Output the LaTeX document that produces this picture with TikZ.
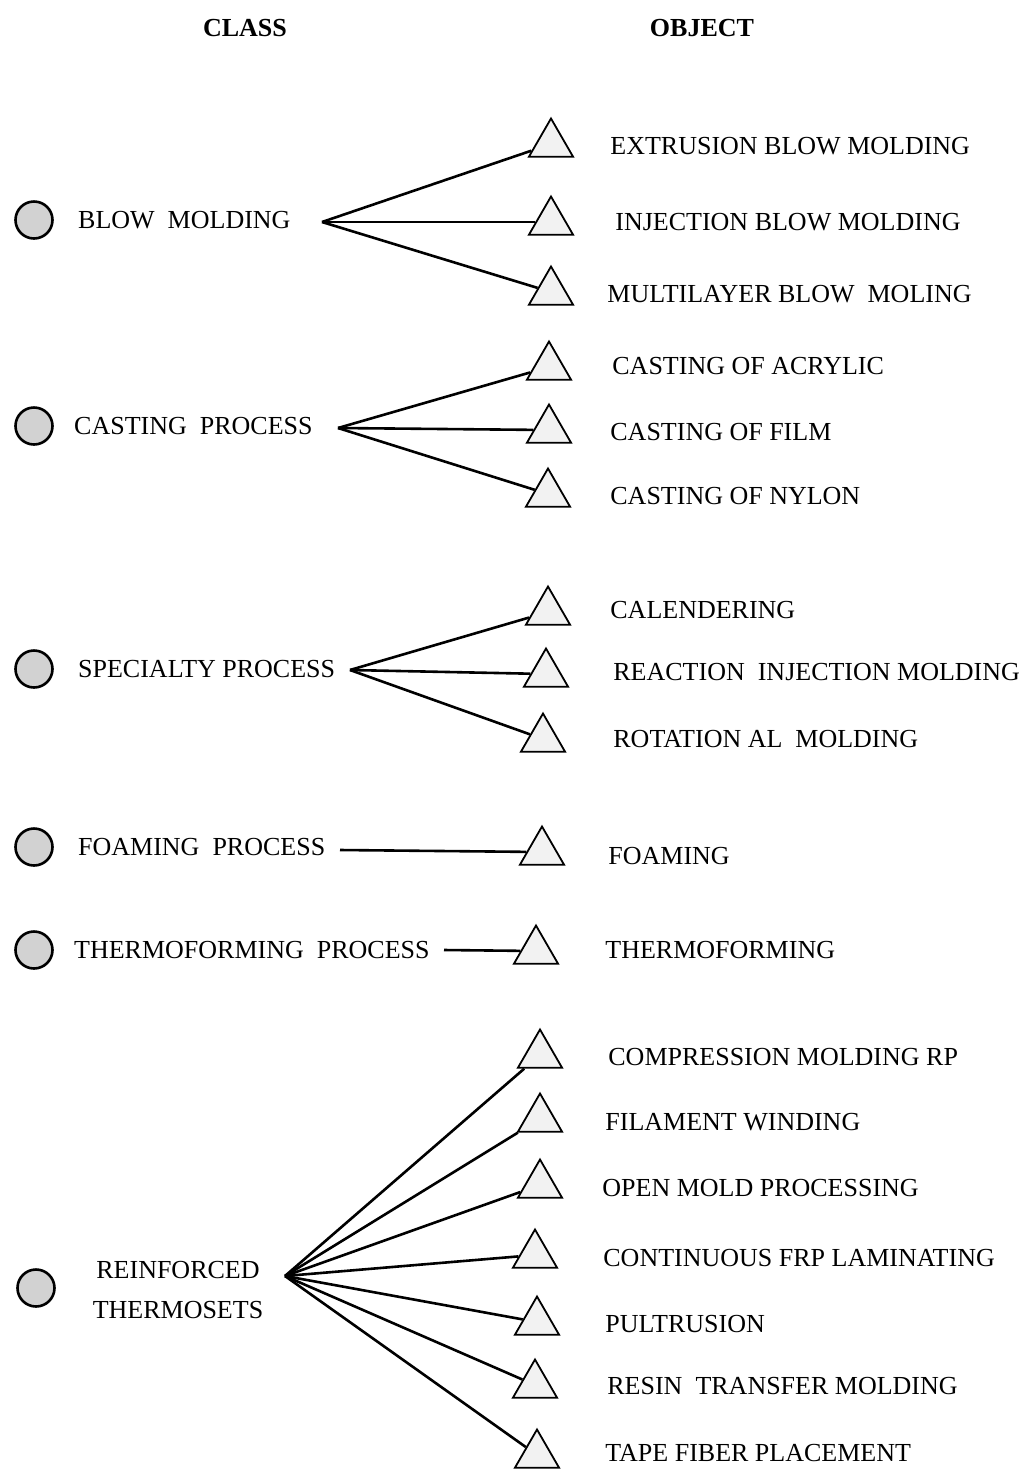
\documentclass[tikz,border=0pt]{standalone}
\usepackage{fontspec}
\setmainfont{Liberation Serif}
\usetikzlibrary{shapes.geometric, positioning}

\begin{document}
\begin{tikzpicture}[
        x=0.5pt, y=-0.5pt,
        classdot/.style={circle, draw, line width=1.3pt, fill=gray!35, minimum size=18.5pt, inner sep=0pt},
        objtri/.style={regular polygon, regular polygon sides=3, draw, line width=0.9pt, fill=gray!10, minimum size=25.5pt, inner sep=0pt},
        lbl/.style={anchor=west, inner sep=0pt, text height=8.6pt, text depth=0pt, font=\fontsize{13}{20}\selectfont},
        head/.style={font=\fontsize{13}{16}\selectfont\bfseries},
        link/.style={line width=1.3pt}
    ]
    \useasboundingbox (0,0) rectangle (1023,1469);

    % headings
    \node[head] (hclass) at (245,28) {CLASS};
    \node[head] (hobject) at (702,28) {OBJECT};

    % classes
    \node[classdot] (c1) at (34,220) {};
    \node[classdot] (c2) at (34,426) {};
    \node[classdot] (c3) at (34,669) {};
    \node[classdot] (c4) at (34,847) {};
    \node[classdot] (c5) at (34,950) {};
    \node[classdot] (c6) at (36,1288) {};

    \node[lbl, right=12pt of c1] (l1) {BLOW\ \ MOLDING};
    \node[lbl, right=10pt of c2] (l2) {CASTING\ \ PROCESS};
    \node[lbl, right=12pt of c3] (l3) {SPECIALTY PROCESS};
    \node[lbl, right=12pt of c4] (l4) {FOAMING\ \ PROCESS};
    \node[lbl, right=10pt of c5] (l5) {THERMOFORMING\ \ PROCESS};
    \node[font=\fontsize{13}{20}\selectfont, align=center, inner sep=0pt] (l6) at (178,1290) {REINFORCED\\THERMOSETS};

    \coordinate (h1) at (322,222);
    \coordinate (h2) at (338,428);
    \coordinate (h3) at (350,670);
    \coordinate (h4) at (340,850);
    \coordinate (h5) at (444,950);
    \coordinate (h6) at (285,1276);

    % objects
    \node[objtri] (t11) at (551,144) {};
    \node[objtri] (t12) at (551,222) {};
    \node[objtri] (t13) at (551,292) {};
    \node[objtri] (t21) at (549,367) {};
    \node[objtri] (t22) at (549,430) {};
    \node[objtri] (t23) at (548,494) {};
    \node[objtri] (t31) at (548,612) {};
    \node[objtri] (t32) at (546,674) {};
    \node[objtri] (t33) at (543,739) {};
    \node[objtri] (t41) at (542,852) {};
    \node[objtri] (t51) at (536,951) {};
    \node[objtri] (t61) at (540,1055) {};
    \node[objtri] (t62) at (540,1119) {};
    \node[objtri] (t63) at (540,1185) {};
    \node[objtri] (t64) at (535,1255) {};
    \node[objtri] (t65) at (537,1322) {};
    \node[objtri] (t66) at (535,1385) {};
    \node[objtri] (t67) at (537,1455) {};

    \node[lbl] (o11) at (610,146) {EXTRUSION BLOW MOLDING};
    \node[lbl] (o12) at (615,222) {INJECTION BLOW MOLDING};
    \node[lbl] (o13) at (607,294) {MULTILAYER BLOW\ \ MOLING};
    \node[lbl] (o21) at (612,366) {CASTING OF ACRYLIC};
    \node[lbl] (o22) at (610,432) {CASTING OF FILM};
    \node[lbl] (o23) at (610,496) {CASTING OF NYLON};
    \node[lbl] (o31) at (610,610) {CALENDERING};
    \node[lbl] (o32) at (613,672) {REACTION\ \ INJECTION MOLDING};
    \node[lbl] (o33) at (613,739) {ROTATION AL\ \ MOLDING};
    \node[lbl] (o41) at (608,856) {FOAMING};
    \node[lbl] (o51) at (605,950) {THERMOFORMING};
    \node[lbl] (o61) at (608,1057) {COMPRESSION MOLDING RP};
    \node[lbl] (o62) at (605,1122) {FILAMENT WINDING};
    \node[lbl] (o63) at (602,1188) {OPEN MOLD PROCESSING};
    \node[lbl] (o64) at (603,1258) {CONTINUOUS FRP LAMINATING};
    \node[lbl] (o65) at (605,1324) {PULTRUSION};
    \node[lbl] (o66) at (607,1386) {RESIN\ \ TRANSFER MOLDING};
    \node[lbl] (o67) at (605,1453) {TAPE FIBER PLACEMENT};

    % links
    \foreach \t in {t11,t12,t13} \draw[link] (h1) -- (\t);
    \foreach \t in {t21,t22,t23} \draw[link] (h2) -- (\t);
    \foreach \t in {t31,t32,t33} \draw[link] (h3) -- (\t);
    \draw[link] (h4) -- (t41);
    \draw[link] (h5) -- (t51);
    \foreach \t in {t61,t62,t63,t64,t65,t66,t67} \draw[link] (h6) -- (\t);
\end{tikzpicture}
\end{document}
